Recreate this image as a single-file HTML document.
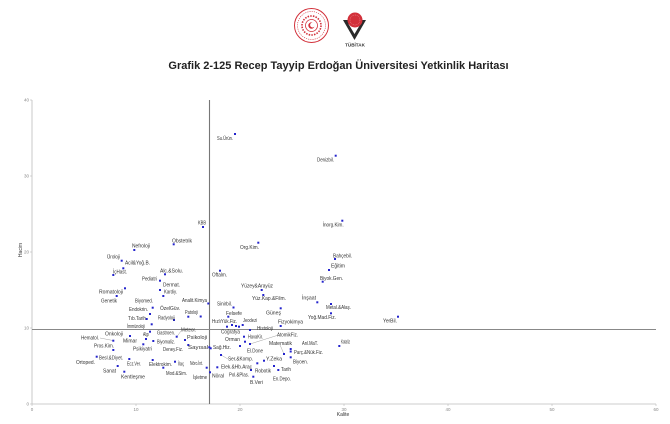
<!DOCTYPE html>
<html><head><meta charset="utf-8">
<style>
html,body{margin:0;padding:0;background:#fff;}
svg{display:block;}
.l{font-family:"Liberation Sans",sans-serif;font-size:5px;fill:#333;}
.t{font-family:"Liberation Sans",sans-serif;font-size:4.5px;fill:#888;}
</style></head><body>
<svg width="670" height="424" viewBox="0 0 670 424" xmlns="http://www.w3.org/2000/svg">
<rect width="670" height="424" fill="#fff"/>
<!-- left emblem -->
<g fill="none" stroke="#d2303a">
<circle cx="311.5" cy="25.5" r="17" stroke-width="1"/>
<circle cx="311.5" cy="25.5" r="14" stroke-width="0.6" stroke-dasharray="1.2 1"/>
<circle cx="311.5" cy="25.5" r="9.5" stroke-width="1.6" stroke-dasharray="1.5 1.2"/>
<circle cx="311.5" cy="25.5" r="6" stroke-width="0.8"/>
</g>
<circle cx="311.5" cy="25.5" r="3.2" fill="#d2303a"/>
<circle cx="312.6" cy="25" r="2.5" fill="#fff"/>
<!-- TUBITAK -->
<polygon points="343,20 366,20 354.5,40" fill="#2a2a2a"/>
<polygon points="348.5,24 360.5,24 354.5,34" fill="#fff"/>
<circle cx="355" cy="20" r="7.5" fill="#d2303a"/>
<circle cx="355" cy="20" r="5" fill="none" stroke="#f3a0a0" stroke-width="0.5" stroke-dasharray="1 0.8"/>
<text x="355" y="46.5" text-anchor="middle" font-family="Liberation Sans,sans-serif" font-weight="bold" font-size="4.6" fill="#333">TÜBİTAK</text>
<!-- title -->
<text x="338.5" y="69" text-anchor="middle" font-family="Liberation Sans,sans-serif" font-weight="bold" font-size="11" fill="#222">Grafik 2-125 Recep Tayyip Erdoğan Üniversitesi Yetkinlik Haritası</text>

<!-- axes -->
<line x1="32" y1="100" x2="32" y2="404" stroke="#bbb" stroke-width="0.8"/>
<line x1="32" y1="404" x2="656" y2="404" stroke="#bbb" stroke-width="0.8"/>
<g stroke="#bbb" stroke-width="0.6">
<line x1="30" y1="100" x2="32" y2="100"/><line x1="30" y1="176" x2="32" y2="176"/><line x1="30" y1="252" x2="32" y2="252"/><line x1="30" y1="328" x2="32" y2="328"/><line x1="30" y1="404" x2="32" y2="404"/>
<line x1="32" y1="404" x2="32" y2="406"/><line x1="136" y1="404" x2="136" y2="406"/><line x1="240" y1="404" x2="240" y2="406"/><line x1="344" y1="404" x2="344" y2="406"/><line x1="448" y1="404" x2="448" y2="406"/><line x1="552" y1="404" x2="552" y2="406"/><line x1="656" y1="404" x2="656" y2="406"/>
</g>
<g class="t" text-anchor="end">
<text x="29" y="101.5">40</text><text x="29" y="177.5">30</text><text x="29" y="253.5">20</text><text x="29" y="329.5">10</text><text x="29" y="405.5">0</text>
</g>
<g class="t" text-anchor="middle">
<text x="32" y="411">0</text><text x="136" y="411">10</text><text x="240" y="411">20</text><text x="344" y="411">30</text><text x="448" y="411">40</text><text x="552" y="411">50</text><text x="656" y="411">60</text>
</g>
<text x="343" y="416" text-anchor="middle" class="l" font-size="4.6">Kalite</text>
<text transform="translate(22,250) rotate(-90)" text-anchor="middle" class="l" font-size="4.6">Hacim</text>

<!-- reference lines -->
<line x1="209.5" y1="100" x2="209.5" y2="404" stroke="#777" stroke-width="1.1"/>
<line x1="32" y1="329.5" x2="656" y2="329.5" stroke="#888" stroke-width="0.9"/>

<!-- leader lines -->
<g stroke="#777" stroke-width="0.35">
<line x1="100" y1="338" x2="113" y2="340.5"/>
<line x1="181" y1="331" x2="177" y2="336.5"/>
<line x1="277" y1="335.5" x2="250" y2="344"/>
<line x1="280" y1="345" x2="284" y2="354"/>
<line x1="228" y1="359" x2="221" y2="355"/>
</g>

<!-- dots -->
<g fill="#2323cc">
<rect x="234" y="133" width="2" height="2"/>
<rect x="334.7" y="154.7" width="2" height="2"/>
<rect x="202" y="226" width="2" height="2"/>
<rect x="341.3" y="219.7" width="2" height="2"/>
<rect x="172.7" y="243.3" width="2" height="2"/>
<rect x="257.3" y="241.7" width="2" height="2"/>
<rect x="133.3" y="249" width="2" height="2"/>
<rect x="334" y="258" width="2" height="2"/>
<rect x="120.7" y="259.7" width="2" height="2"/>
<rect x="122.3" y="267.3" width="2" height="2"/>
<rect x="328" y="269" width="2" height="2"/>
<rect x="112.3" y="274" width="2" height="2"/>
<rect x="164" y="273.3" width="2" height="2"/>
<rect x="219" y="269.7" width="2" height="2"/>
<rect x="159" y="279.7" width="2" height="2"/>
<rect x="321.7" y="280.7" width="2" height="2"/>
<rect x="159" y="289" width="2" height="2"/>
<rect x="260.7" y="289" width="2" height="2"/>
<rect x="162.3" y="295" width="2" height="2"/>
<rect x="124" y="287.3" width="2" height="2"/>
<rect x="262.3" y="294" width="2" height="2"/>
<rect x="316.3" y="301.3" width="2" height="2"/>
<rect x="115.7" y="295" width="2" height="2"/>
<rect x="151.7" y="306.7" width="2" height="2"/>
<rect x="207.3" y="302.5" width="2" height="2"/>
<rect x="232.5" y="306.5" width="2" height="2"/>
<rect x="330" y="303" width="2" height="2"/>
<rect x="149" y="313" width="2" height="2"/>
<rect x="187.3" y="315.7" width="2" height="2"/>
<rect x="199.7" y="315.5" width="2" height="2"/>
<rect x="227.3" y="315.7" width="2" height="2"/>
<rect x="279.7" y="307.3" width="2" height="2"/>
<rect x="330" y="312.3" width="2" height="2"/>
<rect x="145.7" y="318" width="2" height="2"/>
<rect x="173" y="319" width="2" height="2"/>
<rect x="397" y="315.7" width="2" height="2"/>
<rect x="226" y="325.7" width="2" height="2"/>
<rect x="231" y="324" width="2" height="2"/>
<rect x="235" y="325" width="2" height="2"/>
<rect x="238" y="325.7" width="2" height="2"/>
<rect x="241.7" y="324" width="2" height="2"/>
<rect x="279.7" y="325" width="2" height="2"/>
<rect x="150.7" y="323.3" width="2" height="2"/>
<rect x="249" y="329" width="2" height="2"/>
<rect x="149" y="330.7" width="2" height="2"/>
<rect x="175.7" y="335.7" width="2" height="2"/>
<rect x="129" y="335" width="2" height="2"/>
<rect x="243" y="335.7" width="2" height="2"/>
<rect x="244" y="340.7" width="2" height="2"/>
<rect x="184" y="339" width="2" height="2"/>
<rect x="112.3" y="339.7" width="2" height="2"/>
<rect x="145" y="338" width="2" height="2"/>
<rect x="152.3" y="340" width="2" height="2"/>
<rect x="338.3" y="345" width="2" height="2"/>
<rect x="249" y="343" width="2" height="2"/>
<rect x="283" y="353" width="2" height="2"/>
<rect x="289.7" y="348" width="2" height="2"/>
<rect x="112.3" y="349" width="2" height="2"/>
<rect x="208.3" y="346.3" width="2" height="2"/>
<rect x="187.3" y="344" width="2" height="2"/>
<rect x="209.7" y="347.3" width="2" height="2"/>
<rect x="142.3" y="343.3" width="2" height="2"/>
<rect x="239" y="345" width="2" height="2"/>
<rect x="289.7" y="350.5" width="2" height="2"/>
<rect x="95.7" y="355.7" width="2" height="2"/>
<rect x="220" y="354" width="2" height="2"/>
<rect x="263" y="359.7" width="2" height="2"/>
<rect x="289.7" y="356.3" width="2" height="2"/>
<rect x="128.3" y="358" width="2" height="2"/>
<rect x="151.7" y="359" width="2" height="2"/>
<rect x="174" y="360.7" width="2" height="2"/>
<rect x="205.7" y="366.7" width="2" height="2"/>
<rect x="216.3" y="366.3" width="2" height="2"/>
<rect x="256.3" y="362.3" width="2" height="2"/>
<rect x="273" y="365" width="2" height="2"/>
<rect x="116.7" y="365" width="2" height="2"/>
<rect x="162.3" y="366.7" width="2" height="2"/>
<rect x="250" y="369" width="2" height="2"/>
<rect x="123.3" y="370.7" width="2" height="2"/>
<rect x="209" y="371.3" width="2" height="2"/>
<rect x="277.3" y="369" width="2" height="2"/>
<rect x="252.3" y="375.7" width="2" height="2"/>
</g>

<!-- labels -->
<g class="l" lengthAdjust="spacingAndGlyphs">
<text x="217" y="140" textLength="16" lengthAdjust="spacingAndGlyphs">Su.Ürün.</text>
<text x="317" y="161.7" textLength="17" lengthAdjust="spacingAndGlyphs">Denizbil.</text>
<text x="198" y="224.7" textLength="8" lengthAdjust="spacingAndGlyphs">KBB</text>
<text x="322.7" y="226.7" textLength="21" lengthAdjust="spacingAndGlyphs">İnorg.Kim.</text>
<text x="172" y="242.7" textLength="20" lengthAdjust="spacingAndGlyphs">Obstetrik</text>
<text x="240" y="249" textLength="19" lengthAdjust="spacingAndGlyphs">Org.Kim.</text>
<text x="132" y="247.7" textLength="18" lengthAdjust="spacingAndGlyphs">Nefroloji</text>
<text x="333" y="257.4" textLength="19" lengthAdjust="spacingAndGlyphs">Bahçebil.</text>
<text x="107" y="258.7" textLength="13" lengthAdjust="spacingAndGlyphs">Üroloji</text>
<text x="125" y="264.7" textLength="25" lengthAdjust="spacingAndGlyphs">Acil&amp;Yoğ.B.</text>
<text x="331" y="267.7" textLength="14" lengthAdjust="spacingAndGlyphs">Eğitim</text>
<text x="113" y="273.4" textLength="14" lengthAdjust="spacingAndGlyphs">İçHast.</text>
<text x="160" y="272.7" textLength="23" lengthAdjust="spacingAndGlyphs">Alc.&amp;Solu.</text>
<text x="212" y="276.7" textLength="15" lengthAdjust="spacingAndGlyphs">Oftalm.</text>
<text x="142" y="280.4" textLength="15" lengthAdjust="spacingAndGlyphs">Pediatri</text>
<text x="320" y="280" textLength="23" lengthAdjust="spacingAndGlyphs">Biyok.Gen.</text>
<text x="163" y="286.7" textLength="17" lengthAdjust="spacingAndGlyphs">Dermat.</text>
<text x="241" y="287.7" textLength="32" lengthAdjust="spacingAndGlyphs">Yüzey&amp;Arayüz</text>
<text x="164" y="293.4" textLength="13" lengthAdjust="spacingAndGlyphs">Kardiy.</text>
<text x="99" y="293.7" textLength="24" lengthAdjust="spacingAndGlyphs">Romatoloji</text>
<text x="252" y="300.2" textLength="34" lengthAdjust="spacingAndGlyphs">Yüz.Kap.&amp;Film.</text>
<text x="302" y="299.7" textLength="14" lengthAdjust="spacingAndGlyphs">İnşaat</text>
<text x="101" y="302.4" textLength="16" lengthAdjust="spacingAndGlyphs">Genetik</text>
<text x="135" y="302.4" textLength="18" lengthAdjust="spacingAndGlyphs">Biyomed.</text>
<text x="182" y="302.2" textLength="25" lengthAdjust="spacingAndGlyphs">Analit.Kimya</text>
<text x="217" y="305.7" textLength="15" lengthAdjust="spacingAndGlyphs">Sinirbil.</text>
<text x="326" y="309.2" textLength="25" lengthAdjust="spacingAndGlyphs">Metal.&amp;Alaş.</text>
<text x="129" y="311.2" textLength="19" lengthAdjust="spacingAndGlyphs">Endokrin.</text>
<text x="160" y="310.2" textLength="20" lengthAdjust="spacingAndGlyphs">ÖzelGüv.</text>
<text x="185" y="314.2" textLength="13" lengthAdjust="spacingAndGlyphs">Patoloji</text>
<text x="226" y="315" textLength="16" lengthAdjust="spacingAndGlyphs">Felsefe</text>
<text x="266" y="314.5" textLength="15" lengthAdjust="spacingAndGlyphs">Güneş</text>
<text x="308" y="319.2" textLength="28" lengthAdjust="spacingAndGlyphs">Yoğ.Mad.Fiz.</text>
<text x="128" y="320" textLength="18" lengthAdjust="spacingAndGlyphs">Tıb.Tarih</text>
<text x="158" y="319.4" textLength="17" lengthAdjust="spacingAndGlyphs">Radyoloji</text>
<text x="383" y="322.7" textLength="14" lengthAdjust="spacingAndGlyphs">YerBil.</text>
<text x="212" y="323.2" textLength="25" lengthAdjust="spacingAndGlyphs">HızlıYük.Fiz.</text>
<text x="243" y="322.2" textLength="14" lengthAdjust="spacingAndGlyphs">Jeodezi</text>
<text x="278" y="323.7" textLength="25" lengthAdjust="spacingAndGlyphs">Fizyokimya</text>
<text x="127" y="328.2" textLength="18" lengthAdjust="spacingAndGlyphs">İmmünoloji</text>
<text x="221" y="333.4" textLength="19" lengthAdjust="spacingAndGlyphs">Coğrafya</text>
<text x="257" y="330" textLength="16" lengthAdjust="spacingAndGlyphs">Histoloji</text>
<text x="143" y="336.2" textLength="6" lengthAdjust="spacingAndGlyphs">Algı</text>
<text x="157" y="334.7" textLength="18" lengthAdjust="spacingAndGlyphs">Gastroen.</text>
<text x="181" y="331.7" textLength="15" lengthAdjust="spacingAndGlyphs">Meteor.</text>
<text x="105" y="335.7" textLength="18" lengthAdjust="spacingAndGlyphs">Onkoloji</text>
<text x="277" y="336.7" textLength="21" lengthAdjust="spacingAndGlyphs">AtomikFiz.</text>
<text x="225" y="341" textLength="15" lengthAdjust="spacingAndGlyphs">Orman</text>
<text x="248" y="338.4" textLength="15" lengthAdjust="spacingAndGlyphs">HavaKir.</text>
<text x="187" y="339.2" textLength="20" lengthAdjust="spacingAndGlyphs">Psikoloji</text>
<text x="81" y="339.4" textLength="18" lengthAdjust="spacingAndGlyphs">Hematol.</text>
<text x="123" y="342.7" textLength="14" lengthAdjust="spacingAndGlyphs">Mimar</text>
<text x="157" y="343.4" textLength="18" lengthAdjust="spacingAndGlyphs">Biyomaliz.</text>
<text x="341" y="343.4" textLength="9" lengthAdjust="spacingAndGlyphs">Kataliz</text>
<text x="269" y="345" textLength="23" lengthAdjust="spacingAndGlyphs">Matematik</text>
<text x="302" y="345" textLength="16" lengthAdjust="spacingAndGlyphs">Anl.MaT.</text>
<text x="94" y="347.4" textLength="20" lengthAdjust="spacingAndGlyphs">Pros.Kim.</text>
<text x="188" y="349" textLength="20" lengthAdjust="spacingAndGlyphs">Sayısal</text>
<text x="213" y="349" textLength="18" lengthAdjust="spacingAndGlyphs">Sağ.Hiz.</text>
<text x="133" y="350.7" textLength="19" lengthAdjust="spacingAndGlyphs">Psikiyatri</text>
<text x="163" y="351.2" textLength="20" lengthAdjust="spacingAndGlyphs">Deney.Fiz.</text>
<text x="247" y="352.4" textLength="16" lengthAdjust="spacingAndGlyphs">El.Done</text>
<text x="294" y="354" textLength="29" lengthAdjust="spacingAndGlyphs">Parç.&amp;Nük.Fiz.</text>
<text x="99" y="359.4" textLength="24" lengthAdjust="spacingAndGlyphs">Besl.&amp;Diyet.</text>
<text x="228" y="360.7" textLength="25" lengthAdjust="spacingAndGlyphs">Ser.&amp;Komp.</text>
<text x="266" y="360.7" textLength="16" lengthAdjust="spacingAndGlyphs">Y.Zeka</text>
<text x="293" y="363.4" textLength="15" lengthAdjust="spacingAndGlyphs">Biyoen.</text>
<text x="76" y="364" textLength="19" lengthAdjust="spacingAndGlyphs">Ortoped.</text>
<text x="127" y="365.7" textLength="14" lengthAdjust="spacingAndGlyphs">Ecz.Ver.</text>
<text x="149" y="366" textLength="23" lengthAdjust="spacingAndGlyphs">Elektrokim.</text>
<text x="178" y="365.7" textLength="6" lengthAdjust="spacingAndGlyphs">İlaç</text>
<text x="190" y="365" textLength="13" lengthAdjust="spacingAndGlyphs">Nöro.İnt.</text>
<text x="221" y="368.4" textLength="31" lengthAdjust="spacingAndGlyphs">Elek.&amp;Hb.Araç</text>
<text x="255" y="372.4" textLength="16" lengthAdjust="spacingAndGlyphs">Robotik</text>
<text x="281" y="371" textLength="10" lengthAdjust="spacingAndGlyphs">Tarih</text>
<text x="103" y="372.4" textLength="13" lengthAdjust="spacingAndGlyphs">Sanat</text>
<text x="166" y="375" textLength="21" lengthAdjust="spacingAndGlyphs">Mod.&amp;Sim.</text>
<text x="229" y="376.7" textLength="20" lengthAdjust="spacingAndGlyphs">Pol.&amp;Plas.</text>
<text x="212" y="377.4" textLength="12" lengthAdjust="spacingAndGlyphs">Nöral</text>
<text x="121" y="378.4" textLength="24" lengthAdjust="spacingAndGlyphs">Kentleşme</text>
<text x="193" y="379" textLength="14" lengthAdjust="spacingAndGlyphs">İşletme</text>
<text x="273" y="380.4" textLength="18" lengthAdjust="spacingAndGlyphs">En.Depo.</text>
<text x="250" y="384" textLength="13" lengthAdjust="spacingAndGlyphs">B.Veri</text>
</g>
</svg>
</body></html>
